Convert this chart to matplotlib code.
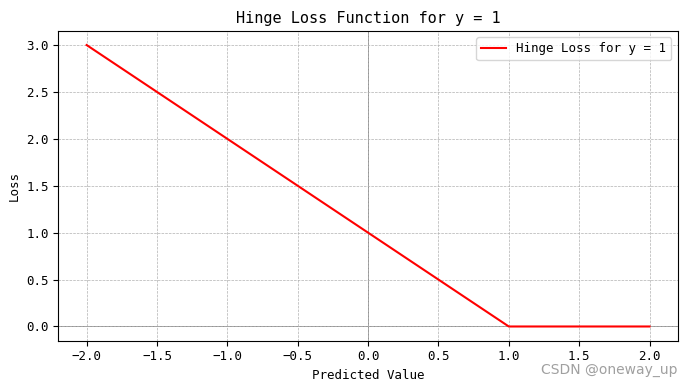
import matplotlib.pyplot as plt

# hinge loss for y = 1, breakpoints
predicted = [-2.0, 1.0, 2.0]
loss = [3.0, 0.0, 0.0]

plt.rcParams["font.family"] = ["DejaVu Sans Mono", "DejaVu Sans"]
plt.rcParams["font.size"] = 9

fig, ax = plt.subplots(figsize=(6.88, 3.87), dpi=100)
fig.subplots_adjust(left=0.085, right=0.985, top=0.92, bottom=0.12)

ax.axhline(0, color="gray", linewidth=0.6, zorder=1)
ax.axvline(0, color="gray", linewidth=0.6, zorder=1)
ax.plot(predicted, loss, color="red", linewidth=1.5, label="Hinge Loss for y = 1", zorder=3)

ax.set_title("Hinge Loss Function for y = 1", fontsize=11)
ax.set_xlabel("Predicted Value")
ax.set_ylabel("Loss")
ax.grid(True, linestyle="--", linewidth=0.5)
ax.legend(loc="upper right")

fig.text(0.985, 0.045, "CSDN @oneway_up", ha="right", va="center",
         color="#a0a0a0", fontsize=10, family="DejaVu Sans")

fig.savefig("out.png")
